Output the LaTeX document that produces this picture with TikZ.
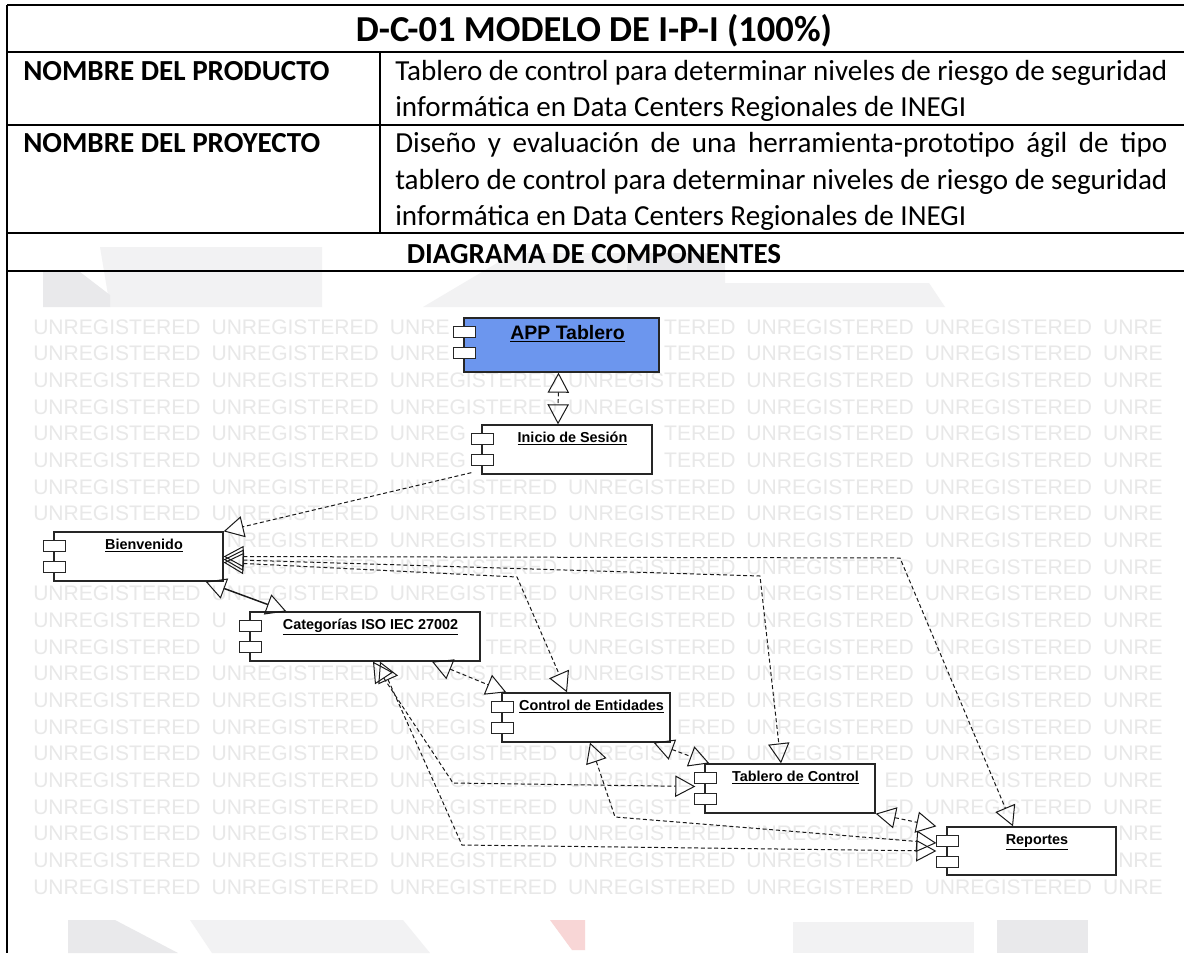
\documentclass[tikz,border=0pt]{standalone}
\usepackage{fontspec}
\setmainfont{Carlito}
\newfontfamily\umlfont{Liberation Sans}
\usetikzlibrary{arrows.meta,fit,calc}
\definecolor{appblue}{RGB}{108,150,238}
\definecolor{wmgray}{RGB}{232,232,232}
\definecolor{logoA}{RGB}{233,233,235}
\definecolor{logoB}{RGB}{242,242,243}
\definecolor{logoR}{RGB}{248,214,214}
\tikzset{opentri/.tip={Triangle[open,length=15pt,width=16pt,line width=0.75pt]}}
\newcommand\wmfull[2]{\node[wm] (wm-#1-#2) at ({33+178.3*#2},{327+26.67*#1}) {UNREGISTERED};}
\newcommand\wmpart[4]{\node[wm] (wm-#1-#2) at ({#3},{327+26.67*#1}) {#4};}
\begin{document}
\begin{tikzpicture}[x=0.75pt,y=-0.75pt,
  tline/.style={line width=1.5pt,black},
  ttext/.style={inner sep=0pt,anchor=base west,font=\fontsize{21.8}{26}\selectfont},
  tbold/.style={inner sep=0pt,font=\bfseries\fontsize{21.8}{26}\selectfont},
  comp/.style={draw=black!85,line width=1pt,fill=white,inner sep=0pt},
  icon/.style={draw=black!85,line width=0.8pt,fill=white},
  clabel/.style={inner sep=0pt,anchor=base,font=\umlfont\bfseries\fontsize{10.8}{12}\selectfont},
  wm/.style={inner sep=0pt,anchor=west,text=wmgray,font=\umlfont\fontsize{15.8}{17}\selectfont},
  dep/.style={draw=black!90,line width=0.75pt,dash pattern=on 3pt off 2pt,arrows={opentri-opentri}},
  depone/.style={draw=black!90,line width=0.75pt,dash pattern=on 3pt off 2pt,arrows={-opentri}},
  logo/.style={draw=none}
]
\useasboundingbox (0,0) rectangle (1184,953);
\fill[white] (0,0) rectangle (1184,953);

% faint background logo pieces
\fill[logo,logoB] (100,247) -- (322,247) -- (322,307) -- (110,307) -- cycle;
\fill[logo,logoA] (43,272) -- (80,272) -- (110,295) -- (110,307) -- (43,307) -- cycle;
\fill[logo,logoB] (514,253) -- (725,253) -- (725,283) -- (929,283) -- (945,307) -- (423,307) -- cycle;
\fill[logo,logoA] (627,253) -- (725,253) -- (725,270) -- (627,270) -- cycle;
\fill[logo,logoA] (68,920) -- (115,920) -- (178,953) -- (68,953) -- cycle;
\fill[logo,logoB] (190,920) -- (403,920) -- (430,953) -- (212,953) -- cycle;
\fill[logo,logoR] (550,920) -- (585,920) -- (585,950) -- (572,950) -- cycle;
\fill[logo,logoB] (793,922) rectangle (974,953);
\fill[logo,logoA] (997,920) rectangle (1088,953);

% watermark (words are cut where the components stand)
\foreach \r in {2,3,6,7,10,13,16,21}{
  \foreach \c in {0,...,5}{\wmfull{\r}{\c}}
  \wmpart{\r}{6}{1102.8}{UNRE}
}
\foreach \r in {0,1}{
  \foreach \c in {0,1,4,5}{\wmfull{\r}{\c}}
  \wmpart{\r}{2}{389.6}{UNRE}
  \wmpart{\r}{3}{663.9}{TERED}
  \wmpart{\r}{6}{1102.8}{UNRE}
}
\foreach \r in {4,5}{
  \foreach \c in {0,1,4,5}{\wmfull{\r}{\c}}
  \wmpart{\r}{2}{389.6}{UNREG}
  \wmpart{\r}{3}{663.9}{TERED}
  \wmpart{\r}{6}{1102.8}{UNRE}
}
\foreach \r in {8,9}{
  \wmpart{\r}{1}{226.5}{NREGISTERED}
  \foreach \c in {2,3,4,5}{\wmfull{\r}{\c}}
  \wmpart{\r}{6}{1102.8}{UNRE}
}
\foreach \r in {11,12}{
  \wmfull{\r}{0}
  \wmpart{\r}{1}{211.3}{U}
  \wmpart{\r}{2}{485.6}{TERED}
  \foreach \c in {3,4,5}{\wmfull{\r}{\c}}
  \wmpart{\r}{6}{1102.8}{UNRE}
}
\foreach \r in {14,15}{
  \foreach \c in {0,1,4,5}{\wmfull{\r}{\c}}
  \wmpart{\r}{2}{389.6}{UNREGIS}
  \wmpart{\r}{3}{676.8}{ERED}
  \wmpart{\r}{6}{1102.8}{UNRE}
}
\foreach \r in {17,18}{
  \foreach \c in {0,1,2,5}{\wmfull{\r}{\c}}
  \wmpart{\r}{3}{567.9}{UNREGISTE}
  \wmpart{\r}{4}{884.3}{ED}
  \wmpart{\r}{6}{1102.8}{UNRE}
}
\foreach \r in {19,20}{
  \foreach \c in {0,...,4}{\wmfull{\r}{\c}}
  \wmpart{\r}{6}{1118}{NRE}
}

% table
\draw[tline] (7,5) -- (1184,5);
\draw[tline] (7,52) -- (1184,52);
\draw[tline] (7,125) -- (1184,125);
\draw[tline] (7,233) -- (1184,233);
\draw[tline] (7,271) -- (1184,271);
\draw[tline] (7,5) -- (7,953);
\draw[tline] (380,52) -- (380,233);

\node[inner sep=0pt,anchor=base,font=\bfseries\fontsize{27.4}{32}\selectfont] (title) at (594,41) {D-C-01 MODELO DE I-P-I (100\%)};
\node[tbold,anchor=base west] (lprod) at (23,80) {NOMBRE DEL PRODUCTO};
\node[tbold,anchor=base west] (lproy) at (23,152) {NOMBRE DEL PROYECTO};
\node[ttext] (prod1) at (395,80) {\makebox[579pt][s]{Tablero de control para determinar niveles de riesgo de seguridad}};
\node[ttext] (prod2) at (395,116) {informática en Data Centers Regionales de INEGI};
\node[ttext] (proy1) at (395,152) {\makebox[579pt][s]{Diseño y evaluación de una herramienta-prototipo ágil de tipo}};
\node[ttext] (proy2) at (395,189) {\makebox[579pt][s]{tablero de control para determinar niveles de riesgo de seguridad}};
\node[ttext] (proy3) at (395,225) {informática en Data Centers Regionales de INEGI};
\node[tbold,anchor=base] (diag) at (594,263) {DIAGRAMA DE COMPONENTES};

% components
\node[comp,fill=appblue,fit={(464,318) (659,372)}] (app) {};
\node[comp,fit={(482,425) (652,474)}] (inicio) {};
\node[comp,fit={(54,532) (223,581)}] (bienv) {};
\node[comp,fit={(250,612) (480,661)}] (cat) {};
\node[comp,fit={(502,693) (670,742)}] (ctrl) {};
\node[comp,fit={(705,764) (875,813)}] (tab) {};
\node[comp,fit={(947,827) (1116,875)}] (rep) {};

\foreach \b in {app,inicio,bienv,cat,ctrl,tab,rep}{
  \draw[icon] ($(\b.north west)+(-10,9)$) rectangle ++(22,11);
  \draw[icon] ($(\b.north west)+(-10,30)$) rectangle ++(22,11);
}

\node[clabel] (app-l) at ($(app.north)+(6,22)$) {\fontsize{14.6}{16}\selectfont\underline{APP Tablero}};
\node[clabel] (inicio-l) at ($(inicio.north)+(5.5,18)$) {\underline{Inicio de Sesión}};
\node[clabel] (bienv-l) at ($(bienv.north)+(5.5,18)$) {\underline{Bienvenido}};
\node[clabel] (cat-l) at ($(cat.north)+(5.5,18)$) {\underline{Categorías ISO IEC 27002}};
\node[clabel] (ctrl-l) at ($(ctrl.north)+(5.5,18)$) {\underline{Control de Entidades}};
\node[clabel] (tab-l) at ($(tab.north)+(5.5,18)$) {\underline{Tablero de Control}};
\node[clabel] (rep-l) at ($(rep.north)+(5.5,18)$) {\underline{Reportes}};

% bend points
\coordinate (k1) at (517,577);
\coordinate (k2) at (760,576);
\coordinate (k3) at (900,558);
\coordinate (k4) at (453,783);
\coordinate (k5) at (462,845);
\coordinate (k6) at (615,817);

% connectors
\draw[dep] ($(app.south)+(-3,0)$) -- ($(inicio.north)+(-9,0)$);
\draw[depone] ($(inicio.south west)+(-10,-2)$) -- (bienv.north east);
\draw[dep,solid,line width=1.1pt] ($(bienv.south east)+(-18,0)$) -- ($(cat.north west)+(37,0)$);
\draw[dep] ($(bienv.east)+(0,6)$) -- (k1) -- ($(ctrl.north)+(-19,0)$);
\draw[dep] ($(bienv.east)+(0,3)$) -- (k2) -- ($(tab.north)+(-9,0)$);
\draw[dep] (bienv.east) -- (k3) -- ($(rep.north)+(-18.5,0)$);
\draw[dep] ($(cat.south)+(67,0)$) -- ($(ctrl.north west)+(5,0)$);
\draw[dep] ($(cat.south)+(8,0)$) -- (k4) -- ($(tab.west)+(-9,-2)$);
\draw[dep] ($(cat.south)+(15,0)$) -- (k5) -- ($(rep.west)+(-10,0)$);
\draw[dep] ($(ctrl.south east)+(-17,0)$) -- ($(tab.north west)+(5,0)$);
\draw[dep] ($(ctrl.south)+(4,0)$) -- (k6) -- ($(rep.west)+(-10,-8)$);
\draw[dep] (tab.south east) -- ($(rep.north west)+(-10,0)$);
\end{tikzpicture}
\end{document}
